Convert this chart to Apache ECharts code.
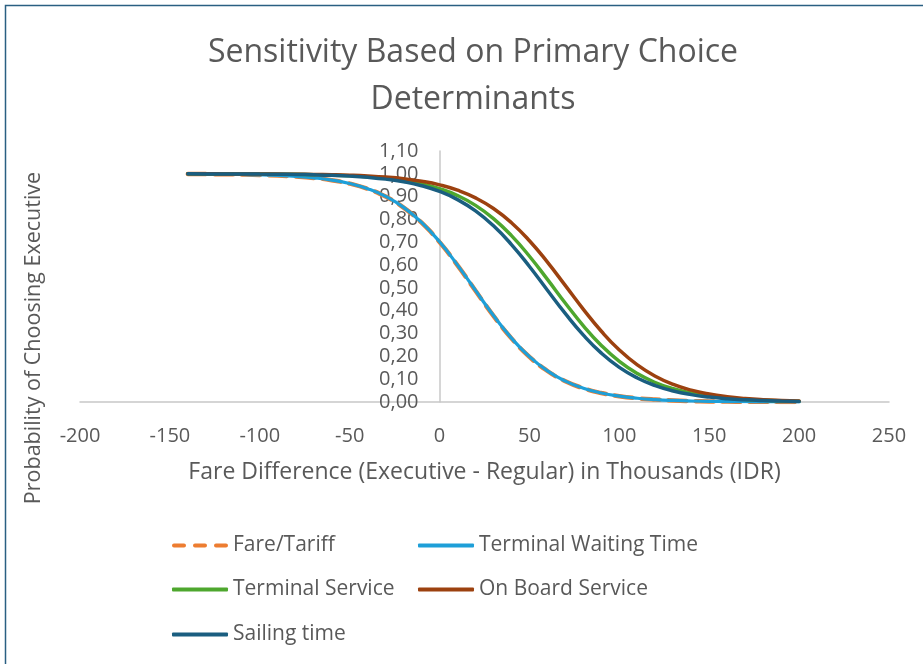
<!DOCTYPE html>
<html>
<head>
<meta charset="utf-8">
<script src="https://cdn.jsdelivr.net/npm/echarts@6/dist/echarts.min.js"></script>
<style>
html,body{margin:0;padding:0;background:#fff;}
#chart{width:923px;height:664px;}
</style>
</head>
<body>
<div id="chart"></div>
<script>
// Fare difference (thousands IDR)
const fareDiff = [-140,-130,-120,-110,-100,-90,-80,-70,-60,-50,-40,-30,-20,-10,0,10,20,30,40,50,60,70,80,90,100,110,120,130,140,150,160,170,180,190,200];

const fareTariff = [0.9992,0.9988,0.9981,0.9970,0.9953,0.9926,0.9885,0.9820,0.9721,0.9569,0.9340,0.9002,0.8520,0.7858,0.7006,0.5987,0.4875,0.3775,0.2789,0.1978,0.1359,0.0911,0.0601,0.0392,0.0254,0.0163,0.0105,0.0067,0.0043,0.0027,0.0017,0.0011,0.0007,0.0005,0.0003];
const terminalWaiting = [0.9992,0.9988,0.9982,0.9971,0.9954,0.9927,0.9887,0.9823,0.9725,0.9574,0.9346,0.9010,0.8530,0.7870,0.7020,0.6000,0.4890,0.3788,0.2800,0.1986,0.1365,0.0915,0.0604,0.0394,0.0255,0.0164,0.0105,0.0067,0.0043,0.0027,0.0017,0.0011,0.0007,0.0005,0.0003];
const terminalService = [0.9998,0.9997,0.9996,0.9993,0.9990,0.9984,0.9976,0.9964,0.9945,0.9916,0.9873,0.9807,0.9710,0.9565,0.9352,0.9047,0.8618,0.8038,0.7291,0.6388,0.5374,0.4329,0.3340,0.2478,0.1780,0.1246,0.0855,0.0579,0.0388,0.0258,0.0171,0.0113,0.0075,0.0049,0.0032];
const onBoardService = [0.9999,0.9998,0.9997,0.9995,0.9992,0.9988,0.9982,0.9973,0.9959,0.9938,0.9906,0.9858,0.9785,0.9677,0.9517,0.9282,0.8947,0.8481,0.7858,0.7068,0.6130,0.5100,0.4061,0.3100,0.2279,0.1625,0.1131,0.0773,0.0522,0.0349,0.0232,0.0154,0.0101,0.0067,0.0044];
const sailingTime = [0.9998,0.9996,0.9995,0.9992,0.9987,0.9981,0.9971,0.9956,0.9933,0.9899,0.9846,0.9768,0.9651,0.9478,0.9227,0.8869,0.8375,0.7721,0.6900,0.5939,0.4900,0.3870,0.2932,0.2142,0.1519,0.1053,0.0718,0.0483,0.0323,0.0215,0.0142,0.0094,0.0062,0.0041,0.0027];

const seriesNames = ['Fare/Tariff','Terminal Waiting Time','Terminal Service','On Board Service','Sailing time'];
const seriesValues = [fareTariff, terminalWaiting, terminalService, onBoardService, sailingTime];
const seriesColors = ['#ED7D31','#1E9FD8','#4EA72E','#9C410F','#1A5E80'];
const seriesDash = ['dashed','solid','solid','solid','solid'];
const seriesWidth = [4.5, 3.2, 3.5, 3.5, 3.5];

const FONT = 'Open Sans';
const TXT = '#595959';

const X_MIN = -200, X_MAX = 250;
const GRID_L = 80, GRID_R = 34, W = 923;

function pairs(vals){ return fareDiff.map((x,i)=>[x, vals[i]]); }

const series = seriesNames.map((n,i)=>({
  name: n,
  type: 'line',
  data: pairs(seriesValues[i]),
  smooth: true,
  symbol: 'none',
  lineStyle: {color: seriesColors[i], width: seriesWidth[i], type: seriesDash[i], cap: 'round'},
  itemStyle: {color: seriesColors[i]},
  z: 2 + i
}));

const DASH_ICON = 'path://M2,0H12A2,2 0 0 1 12,4H2A2,2 0 0 1 2,0Z M23,0H33A2,2 0 0 1 33,4H23A2,2 0 0 1 23,0Z M44,0H54A2,2 0 0 1 54,4H44A2,2 0 0 1 44,0Z';
function legendAt(name, left, top, dashed){
  return {
    data: [{name: name, icon: dashed ? DASH_ICON : 'roundRect'}],
    left: left, top: top, orient: 'horizontal', padding: 0,
    itemWidth: 56, itemHeight: 4, itemGap: 0,
    textStyle: {fontFamily: FONT, fontSize: 21, color: TXT, padding: [0,0,0,0]},
    selectedMode: false
  };
}

// y-axis crosses at x = 0
const plotW = W - GRID_L - GRID_R;
const yOffset = -plotW * (0 - X_MIN) / (X_MAX - X_MIN);

const chart = echarts.init(document.getElementById('chart'), null, {renderer: 'canvas'});
chart.setOption({
  animation: false,
  backgroundColor: '#ffffff',
  title: {
    text: 'Sensitivity Based on Primary Choice\nDeterminants',
    left: 473, top: 29, padding: 0, textAlign: 'center',
    textStyle: {fontFamily: FONT, fontSize: 32, fontWeight: 'normal', color: TXT, lineHeight: 47}
  },
  legend: [
    legendAt('Fare/Tariff', 172, 535, true),
    legendAt('Terminal Waiting Time', 418, 535),
    legendAt('Terminal Service', 172, 579),
    legendAt('On Board Service', 418, 579),
    legendAt('Sailing time', 172, 624)
  ],
  grid: {left: GRID_L, right: GRID_R, top: 151, bottom: 262, containLabel: false},
  xAxis: {
    type: 'value', min: X_MIN, max: X_MAX, interval: 50,
    name: 'Fare Difference (Executive - Regular) in Thousands (IDR)',
    nameLocation: 'middle', nameGap: 59,
    nameTextStyle: {fontFamily: FONT, fontSize: 23, color: TXT, verticalAlign: 'top'},
    axisLine: {show: true, onZero: false, lineStyle: {color: '#C8C8C8', width: 1.5}},
    axisTick: {show: false},
    splitLine: {show: false},
    axisLabel: {fontFamily: FONT, fontSize: 20, color: TXT, margin: 24}
  },
  yAxis: {
    type: 'value', min: 0, max: 1.1, interval: 0.1,
    position: 'left', offset: yOffset,
    axisLine: {show: true, onZero: false, lineStyle: {color: '#C8C8C8', width: 1.5}},
    axisTick: {show: false},
    splitLine: {show: false},
    axisLabel: {fontFamily: FONT, fontSize: 20, color: TXT, margin: 21,
      formatter: v => v.toFixed(2).replace('.', ',')}
  },
  graphic: [
    {type: 'rect', shape: {x: 5.5, y: 5.5, width: 940, height: 680},
     style: {fill: null, stroke: '#2A5F82', lineWidth: 1.5}, silent: true, z: 100},
    {type: 'text', x: 34, y: 338, rotation: Math.PI/2,
     style: {text: 'Probability of Choosing Executive', fontFamily: FONT, fontSize: 21.5, fill: TXT,
             textAlign: 'center', textVerticalAlign: 'middle'}}
  ],
  series: series
});
</script>
</body>
</html>
